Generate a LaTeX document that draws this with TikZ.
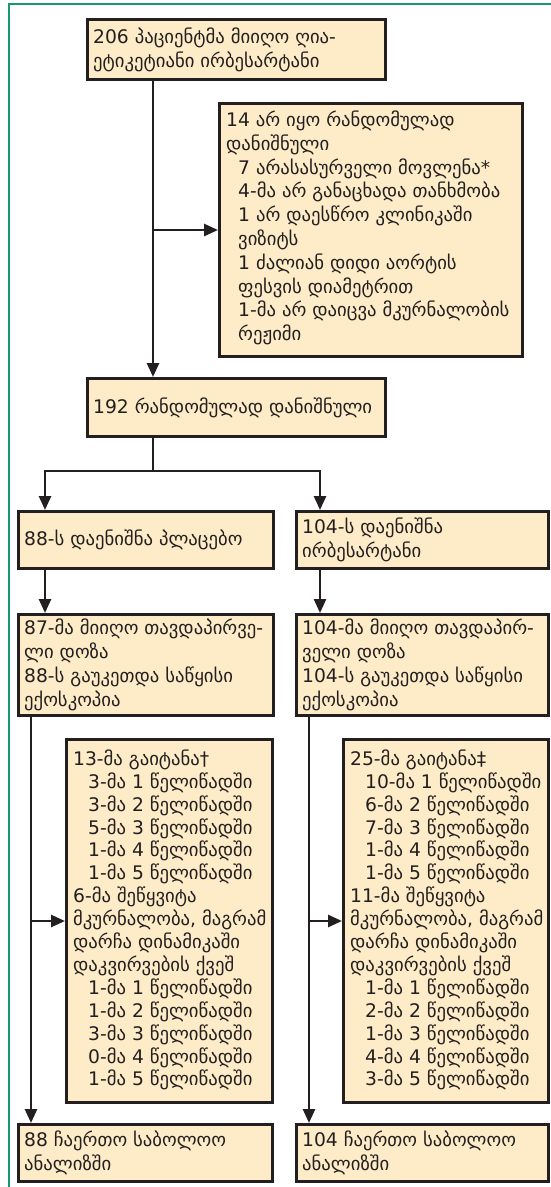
\documentclass[tikz,border=0pt]{standalone}
\usepackage{fontspec}
\setmainfont{DejaVu Sans}
\usetikzlibrary{arrows.meta}
\definecolor{boxfill}{RGB}{253,236,199}
\definecolor{ink}{RGB}{35,31,32}
\definecolor{framegreen}{RGB}{24,152,110}
\begin{document}
\begin{tikzpicture}[x=1pt,y=-1pt,
  boxnode/.style={draw=ink, line width=3pt, fill=boxfill, inner sep=0pt, anchor=north west},
  txt/.style={anchor=west, align=left, inner sep=0pt, font=\fontsize{18.7}{23.8}\selectfont, text=ink},
  tallt/.style={txt, font=\fontsize{18.7}{22.9}\selectfont},
  conn/.style={draw=ink, line width=2.6pt},
  arr/.style={conn, -{Triangle[length=14pt,width=12pt]}}]
\useasboundingbox (0,0) rectangle (550,1187);
\draw[framegreen, line width=2.6pt] (9,4) rectangle (620,1260);
% boxes
\node[boxnode, minimum width=298pt, minimum height=60pt] (A) at (86,18) {};
\node[boxnode, minimum width=303pt, minimum height=253pt] (B) at (218,102) {};
\node[boxnode, minimum width=298pt, minimum height=58pt] (C) at (86,377) {};
\node[boxnode, minimum width=255pt, minimum height=57pt] (D) at (17,510) {};
\node[boxnode, minimum width=252pt, minimum height=57pt] (E) at (295,510) {};
\node[boxnode, minimum width=255pt, minimum height=101pt] (F) at (17,613) {};
\node[boxnode, minimum width=252pt, minimum height=101pt] (G) at (295,613) {};
\node[boxnode, minimum width=206pt, minimum height=363pt] (H) at (65,738) {};
\node[boxnode, minimum width=205pt, minimum height=363pt] (I) at (342,738) {};
\node[boxnode, minimum width=254pt, minimum height=57pt] (J) at (17,1123) {};
\node[boxnode, minimum width=252pt, minimum height=57pt] (K) at (295,1123) {};
% texts
\node[txt] (At) at ([xshift=7pt]A.west) {206 პაციენტმა მიიღო ღია-\\ეტიკეტიანი ირბესარტანი};
\node[txt] (Bt) at ([xshift=8pt,yshift=2pt]B.west) {14 არ იყო რანდომულად\\დანიშნული\\
\hspace*{12pt}7 არასასურველი მოვლენა*\\
\hspace*{12pt}4-მა არ განაცხადა თანხმობა\\
\hspace*{12pt}1 არ დაესწრო კლინიკაში\\
\hspace*{12pt}ვიზიტს\\
\hspace*{12pt}1 ძალიან დიდი აორტის\\
\hspace*{12pt}ფესვის დიამეტრით\\
\hspace*{12pt}1-მა არ დაიცვა მკურნალობის\\
\hspace*{12pt}რეჟიმი};
\node[txt] (Ct) at ([xshift=7pt]C.west) {192 რანდომულად დანიშნული};
\node[txt] (Dt) at ([xshift=7pt]D.west) {88-ს დაენიშნა პლაცებო};
\node[txt] (Et) at ([xshift=7pt]E.west) {104-ს დაენიშნა\\ირბესარტანი};
\node[txt] (Ft) at ([xshift=7pt]F.west) {87-მა მიიღო თავდაპირვე-\\ლი დოზა\\88-ს გაუკეთდა საწყისი\\ექოსკოპია};
\node[txt] (Gt) at ([xshift=7pt]G.west) {104-მა მიიღო თავდაპირ-\\ველი დოზა\\104-ს გაუკეთდა საწყისი\\ექოსკოპია};
\node[tallt] (Ht) at ([xshift=8pt,yshift=1pt]H.west) {13-მა გაიტანა†\\
\hspace*{15pt}3-მა 1 წელიწადში\\
\hspace*{15pt}3-მა 2 წელიწადში\\
\hspace*{15pt}5-მა 3 წელიწადში\\
\hspace*{15pt}1-მა 4 წელიწადში\\
\hspace*{15pt}1-მა 5 წელიწადში\\
6-მა შეწყვიტა\\მკურნალობა, მაგრამ\\დარჩა დინამიკაში\\დაკვირვების ქვეშ\\
\hspace*{15pt}1-მა 1 წელიწადში\\
\hspace*{15pt}1-მა 2 წელიწადში\\
\hspace*{15pt}3-მა 3 წელიწადში\\
\hspace*{15pt}0-მა 4 წელიწადში\\
\hspace*{15pt}1-მა 5 წელიწადში};
\node[tallt] (It) at ([xshift=8pt,yshift=1pt]I.west) {25-მა გაიტანა‡\\
\hspace*{15pt}10-მა 1 წელიწადში\\
\hspace*{15pt}6-მა 2 წელიწადში\\
\hspace*{15pt}7-მა 3 წელიწადში\\
\hspace*{15pt}1-მა 4 წელიწადში\\
\hspace*{15pt}1-მა 5 წელიწადში\\
11-მა შეწყვიტა\\მკურნალობა, მაგრამ\\დარჩა დინამიკაში\\დაკვირვების ქვეშ\\
\hspace*{15pt}1-მა 1 წელიწადში\\
\hspace*{15pt}2-მა 2 წელიწადში\\
\hspace*{15pt}1-მა 3 წელიწადში\\
\hspace*{15pt}4-მა 4 წელიწადში\\
\hspace*{15pt}3-მა 5 წელიწადში};
\node[txt] (Jt) at ([xshift=7pt]J.west) {88 ჩაერთო საბოლოო\\ანალიზში};
\node[txt] (Kt) at ([xshift=7pt]K.west) {104 ჩაერთო საბოლოო\\ანალიზში};
% connectors
\coordinate (m) at (153,0);
\coordinate (sp) at (153,471);
\coordinate (dl) at (45,471);
\coordinate (dr) at (320,471);
\coordinate (vl) at (31,0);
\coordinate (vr) at (309,0);
\draw[arr] (A.south -| m) -- (C.north -| m);
\draw[arr] (B.west -| m) -- (B.west);
\draw[conn] (C.south -| m) -- (sp);
\draw[arr] (sp) -- (dl) -- (D.north -| dl);
\draw[arr] (sp) -- (dr) -- (E.north -| dr);
\draw[arr] (D.south -| dl) -- (F.north -| dl);
\draw[arr] (E.south -| dr) -- (G.north -| dr);
\draw[arr] (F.south -| vl) -- (J.north -| vl);
\draw[arr] (H.west -| vl) -- (H.west);
\draw[arr] (G.south -| vr) -- (K.north -| vr);
\draw[arr] (I.west -| vr) -- (I.west);
\end{tikzpicture}
\end{document}
